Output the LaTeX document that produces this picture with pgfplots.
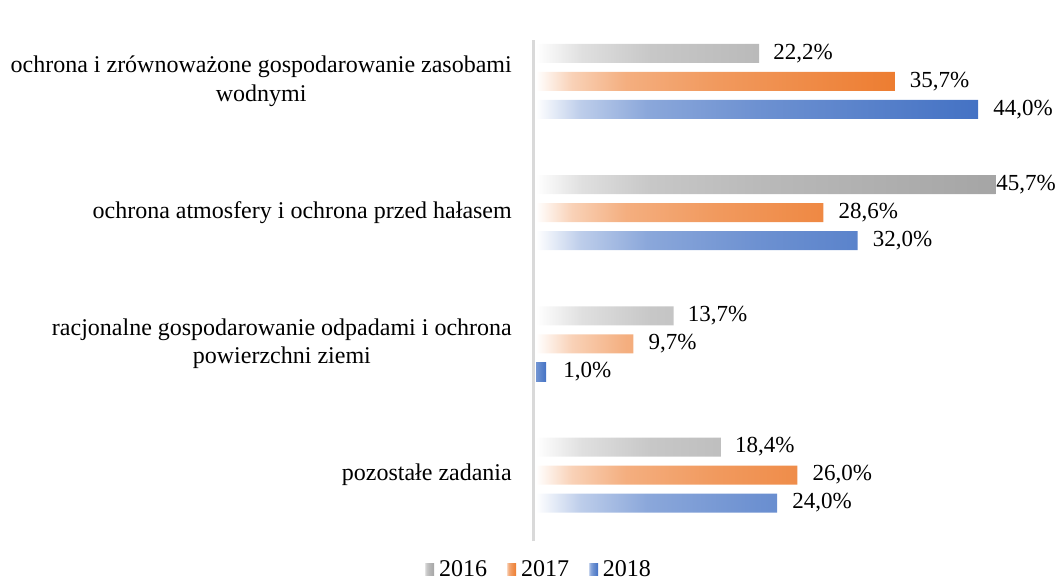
\documentclass[border=0pt]{standalone}
\usepackage{fontspec}
\setmainfont{Liberation Serif}
\usepackage{pgfplots}
\pgfplotsset{compat=1.18}
\usepackage{pgfplotstable}
\definecolor{gC}{HTML}{A5A5A5}
\definecolor{oC}{HTML}{ED7D31}
\definecolor{bC}{HTML}{4472C4}
\pgfdeclarehorizontalshading{shG}{100bp}{color(0bp)=(white); color(25bp)=(white); color(30bp)=(gC!35!white); color(37.5bp)=(gC!62!white); color(50bp)=(gC!78!white); color(75bp)=(gC); color(100bp)=(gC)}
\pgfdeclarehorizontalshading{shO}{100bp}{color(0bp)=(white); color(25bp)=(white); color(30bp)=(oC!35!white); color(37.5bp)=(oC!62!white); color(50bp)=(oC!78!white); color(75bp)=(oC); color(100bp)=(oC)}
\pgfdeclarehorizontalshading{shB}{100bp}{color(0bp)=(white); color(25bp)=(white); color(30bp)=(bC!35!white); color(37.5bp)=(bC!62!white); color(50bp)=(bC!78!white); color(75bp)=(bC); color(100bp)=(bC)}
\pgfdeclarehorizontalshading{shBs}{100bp}{color(0bp)=(bC!75!white); color(25bp)=(bC!75!white); color(75bp)=(bC); color(100bp)=(bC)}
\pgfplotstableread{
cat v16 v17 v18 s16
3 22.2 35.7 44.0 14
2 45.7 28.6 32.0 1
1 13.7 9.7 1.0 14
0 18.4 26.0 24.0 14
}\datatable
\begin{document}
\begin{tikzpicture}
\useasboundingbox (0,0) rectangle (1061bp,581bp);
\begin{axis}[
  at={(536bp,40bp)}, anchor=south west,
  scale only axis, width=502.5bp, height=501bp,
  xmin=0, xmax=50, ymin=-0.503, ymax=3.316,
  axis x line=none, axis y line*=left,
  y axis line style={draw=gray!30, line width=3bp, xshift=-2.5bp},
  ytick={0,1,2,3},
  yticklabels={pozostałe zadania, racjonalne gospodarowanie odpadami i ochrona\\powierzchni ziemi, ochrona atmosfery i ochrona przed hałasem, ochrona i zrównoważone gospodarowanie zasobami\\wodnymi},
  major tick length=0pt,
  yticklabel style={font=\fontsize{24bp}{28.8bp}\selectfont, align=center, anchor=east, inner sep=0pt, xshift=-24bp},
  xbar, bar width=19bp,
  clip=false,
  point meta=x,
  nodes near coords={\pgfmathprintnumber[fixed,fixed zerofill,precision=1,use comma,assume math mode=true]{\pgfplotspointmeta}\%},
  legend style={at={(0.005,-0.056)}, anchor=center, draw=none, fill=none, legend columns=3,
    font=\fontsize{24bp}{28.8bp}\selectfont,
    /tikz/every odd column/.append style={column sep=3bp},
    /tikz/every even column/.append style={column sep=17bp}},
]
\addplot[draw=none, shade, shading=shG, bar shift=28bp,
  visualization depends on={\thisrow{s16} \as \myshift},
  every node near coord/.append style={font=\fontsize{23bp}{27bp}\selectfont, anchor=west, inner sep=0pt, text=black, xshift=\myshift bp},
  legend image code/.code={\shade[shading=shG] (0bp,-6bp) rectangle (10bp,6bp);}]
  table[x=v16, y=cat]{\datatable};
\addlegendentry{2016}
\addplot[draw=none, shade, shading=shO, bar shift=0bp,
  every node near coord/.append style={font=\fontsize{23bp}{27bp}\selectfont, anchor=west, inner sep=0pt, text=black, xshift=15bp},
  legend image code/.code={\shade[shading=shO] (0bp,-6bp) rectangle (10bp,6bp);}]
  table[x=v17, y=cat]{\datatable};
\addlegendentry{2017}
\addplot[draw=none, shade, shading=shB, bar shift=-28bp,
  skip coords between index={2}{3},
  every node near coord/.append style={font=\fontsize{23bp}{27bp}\selectfont, anchor=west, inner sep=0pt, text=black, xshift=15bp},
  legend image code/.code={\shade[shading=shB] (0bp,-6bp) rectangle (10bp,6bp);}]
  table[x=v18, y=cat]{\datatable};
\addlegendentry{2018}
\addplot[forget plot, draw=none, shade, shading=shBs, bar shift=-28bp,
  skip coords between index={0}{2}, skip coords between index={3}{4},
  every node near coord/.append style={font=\fontsize{23bp}{27bp}\selectfont, anchor=west, inner sep=0pt, text=black, xshift=17bp}]
  table[x=v18, y=cat]{\datatable};
\end{axis}
\end{tikzpicture}
\end{document}
